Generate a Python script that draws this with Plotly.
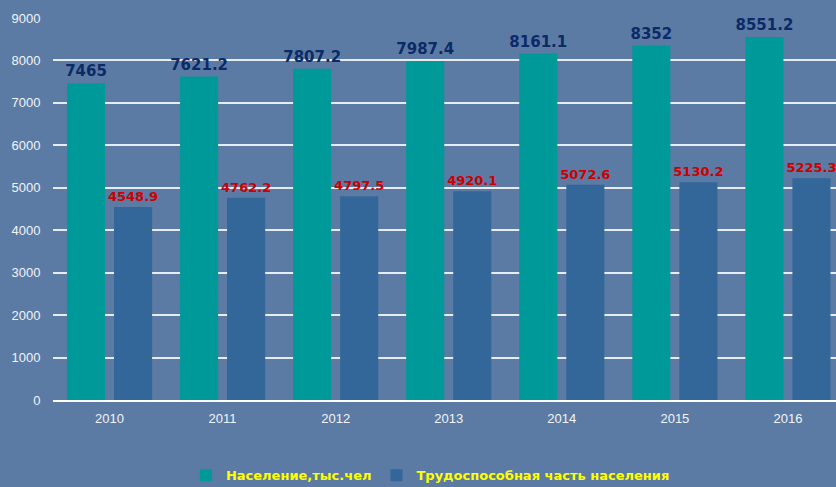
import plotly.graph_objects as go

years = ["2010", "2011", "2012", "2013", "2014", "2015", "2016"]
population = [7465, 7621.2, 7807.2, 7987.4, 8161.1, 8352, 8551.2]
working = [4548.9, 4762.2, 4797.5, 4920.1, 5072.6, 5130.2, 5225.3]
pop_labels = ["7465", "7621.2", "7807.2", "7987.4", "8161.1", "8352", "8551.2"]
work_labels = ["4548.9", "4762.2", "4797.5", "4920.1", "5072.6", "5130.2", "5225.3"]
y_ticks = [0, 1000, 2000, 3000, 4000, 5000, 6000, 7000, 8000, 9000]

fig = go.Figure()
fig.add_trace(go.Bar(
    x=years, y=population, name="Население,тыс.чел",
    marker=dict(color="#009999", line=dict(width=0)),
    text=pop_labels, textposition="outside", constraintext="none",
    textfont=dict(family="DejaVu Sans", size=15, color="#0c2a66", weight="bold"),
    cliponaxis=False,
))
fig.add_trace(go.Bar(
    x=years, y=working, name="Трудоспособная часть населения",
    marker=dict(color="#336699", line=dict(width=0)),
    text=work_labels, textposition="outside", constraintext="none",
    textfont=dict(family="DejaVu Sans", size=13, color="#cc0000", weight="bold"),
    cliponaxis=False,
))

fig.update_layout(
    width=836, height=487,
    margin=dict(l=53, r=0, t=18, b=87, autoexpand=False),
    paper_bgcolor="#5b7ba5",
    plot_bgcolor="#5b7ba5",
    barmode="group",
    bargap=0.168,
    bargroupgap=0.19,
    showlegend=True,
    legend=dict(
        orientation="h", x=0.482, xanchor="center", y=-0.158, yanchor="top",
        font=dict(family="DejaVu Sans", size=13, color="#ffff00", weight="bold"),
        bgcolor="rgba(0,0,0,0)", itemwidth=30,
    ),
    font=dict(family="Liberation Sans", color="#f2f4f8"),
)
fig.update_xaxes(
    type="category", range=[-0.5, 6.425], automargin=False,
    showgrid=False, showline=True, linecolor="#ffffff", linewidth=1.5,
    ticks="outside", ticklen=6, tickcolor="rgba(0,0,0,0)",
    tickfont=dict(family="Liberation Sans", size=13, color="#f2f4f8"),
)
fig.update_yaxes(
    range=[0, 9000], tickvals=y_ticks, automargin=False,
    showgrid=True, gridcolor="#e8ecf2", gridwidth=1.5,
    zeroline=False, showline=False,
    ticks="outside", ticklen=9, tickcolor="rgba(0,0,0,0)",
    tickfont=dict(family="Liberation Sans", size=13, color="#f2f4f8"),
)

fig.write_html(
    "out.html",
    config={"displayModeBar": False},
    post_script="document.body.style.margin='0';document.body.style.overflow='hidden';document.body.style.background='#5b7ba5';",
)
